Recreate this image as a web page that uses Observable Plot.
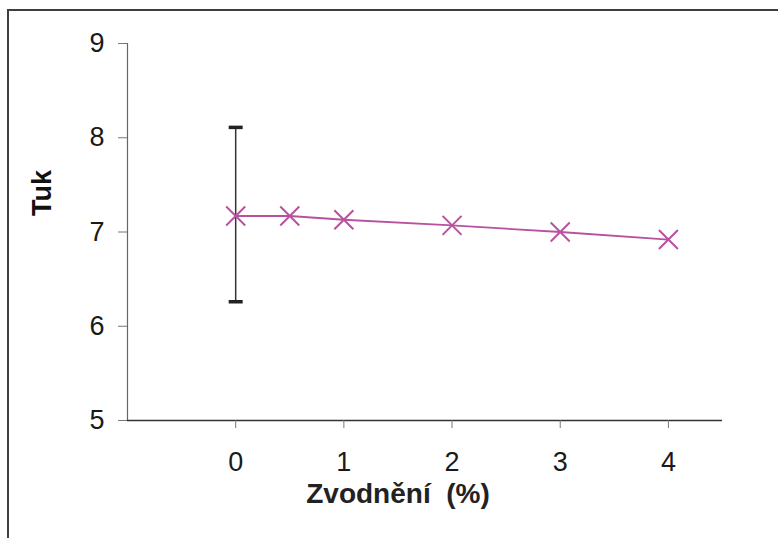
<!DOCTYPE html>
<html>
<head>
<meta charset="utf-8">
<script src="https://cdn.jsdelivr.net/npm/d3@7"></script>
<script src="https://cdn.jsdelivr.net/npm/@observablehq/plot@0.6"></script>
<style>
  html, body { margin: 0; padding: 0; background: #fff; overflow: hidden; }
  #wrap { position: relative; width: 778px; height: 538px; overflow: hidden; }
  #frame { position: absolute; left: 7px; top: 9px; width: 900px; height: 900px;
           border-left: 2px solid #3f3f3f; border-top: 2px solid #3f3f3f; box-sizing: border-box; }
  #chart { position: absolute; left: 0; top: 0; }
</style>
</head>
<body>
<div id="wrap"><div id="frame"></div><div id="chart"></div></div>
<script>
// Data
const zvodneni = [0, 0.5, 1, 2, 3, 4];
const tuk = [7.17, 7.17, 7.13, 7.07, 7.00, 6.92];
const errX = [0];
const errLow = [6.26];
const errHigh = [8.11];
const xTicks = [0, 1, 2, 3, 4];
const yTicks = [5, 6, 7, 8, 9];
const xTitle = "Zvodnění\u00a0\u00a0(%)";
const yTitle = "Tuk";

const points = zvodneni.map((x, i) => ({x, y: tuk[i]}));
const errs = errX.map((x, i) => ({x, lo: errLow[i], hi: errHigh[i]}));
const caps = errs.flatMap(d => [{x: d.x, y: d.lo}, {x: d.x, y: d.hi}]);

const crossSymbol = {draw(ctx, size) { const r = Math.sqrt(size / Math.PI);
  ctx.moveTo(-r, -r); ctx.lineTo(r, r); ctx.moveTo(r, -r); ctx.lineTo(-r, r); }};
const capSymbol = {draw(ctx, size) { const r = Math.sqrt(size / Math.PI);
  ctx.moveTo(-r, 0); ctx.lineTo(r, 0); }};

const col = "#b8519f";
const font = "'Liberation Sans', Arial, sans-serif";

const plot = Plot.plot({
  width: 778,
  height: 538,
  marginLeft: 127,
  marginRight: 56,
  marginTop: 43,
  marginBottom: 118,
  style: {fontFamily: font, background: "transparent", color: "#222"},
  x: {domain: [-1, 4.5]},
  y: {domain: [5, 9]},
  marks: [
    Plot.ruleX([-1], {y1: 5, y2: 9, stroke: "#666", strokeWidth: 1.2}),
    Plot.ruleY([5], {x1: -1, x2: 4.5, stroke: "#333", strokeWidth: 1.5}),
    Plot.axisY({ticks: yTicks, tickSize: 9, tickPadding: 14, fontSize: 27, label: null, stroke: "#777", fill: "#1a1a1a", tickFormat: d => String(d)}),
    Plot.axisX({ticks: xTicks, tickSize: 8, tickPadding: 23, fontSize: 27, label: null, stroke: "#777", fill: "#1a1a1a", tickFormat: d => String(d)}),
    Plot.ruleX(errs, {x: "x", y1: "lo", y2: "hi", stroke: "#333", strokeWidth: 1.5}),
    Plot.dot(caps, {x: "x", y: "y", symbol: capSymbol, r: 7, stroke: "#222", strokeWidth: 3.5}),
    Plot.line(points, {x: "x", y: "y", stroke: col, strokeWidth: 1.8}),
    Plot.dot(points, {x: "x", y: "y", symbol: crossSymbol, r: 9.5, stroke: col, strokeWidth: 2}),
    Plot.text([xTitle], {frameAnchor: "bottom", text: d => d, dy: 82, dx: -27, fontSize: 28, fontWeight: "bold", fill: "#222"}),
    Plot.text([yTitle], {frameAnchor: "left", text: d => d, rotate: -90, dx: -85, dy: -16, fontSize: 27, fontWeight: "bold", fill: "#111"})
  ]
});
document.getElementById("chart").appendChild(plot);
</script>
</body>
</html>
